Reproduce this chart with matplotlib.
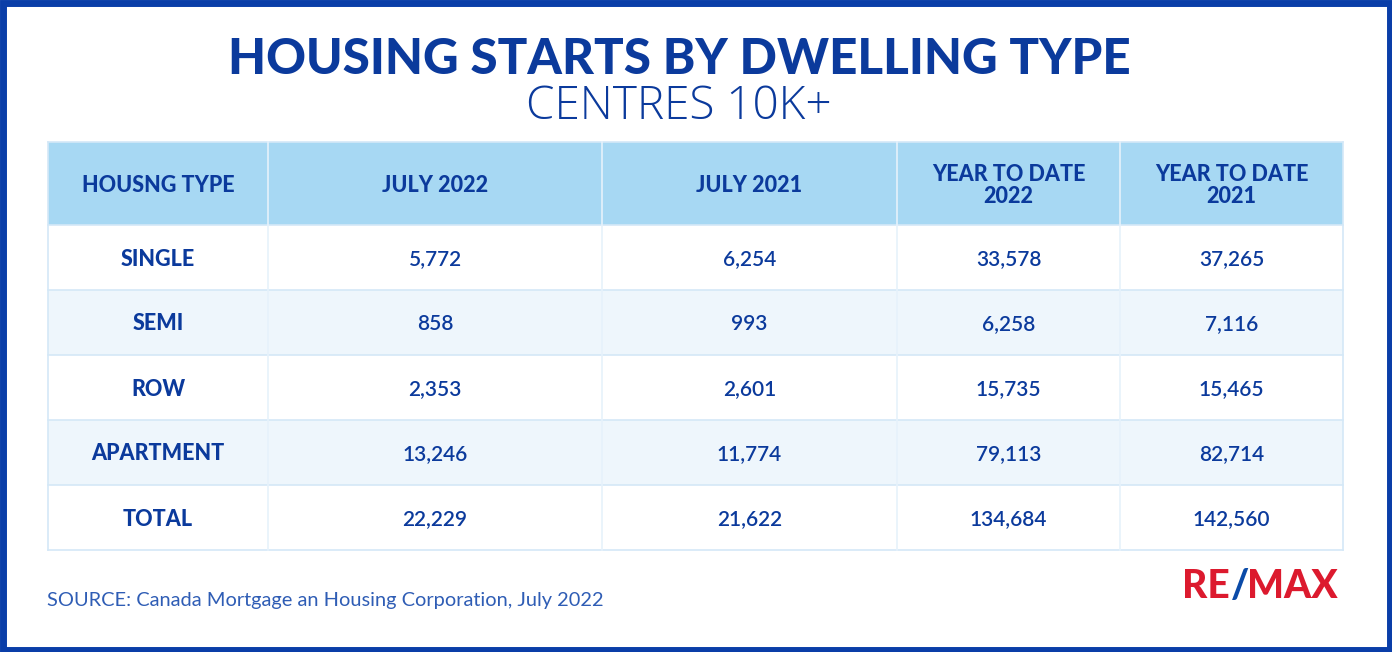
import matplotlib
matplotlib.use("Agg")
import matplotlib.pyplot as plt
from matplotlib.patches import Rectangle

title = "HOUSING STARTS BY DWELLING TYPE"
subtitle = "CENTRES 10K+"
columns = ["HOUSNG TYPE", "JULY 2022", "JULY 2021", "YEAR TO DATE\n2022", "YEAR TO DATE\n2021"]
types = ["SINGLE", "SEMI", "ROW", "APARTMENT", "TOTAL"]
july_2022 = ["5,772", "858", "2,353", "13,246", "22,229"]
july_2021 = ["6,254", "993", "2,601", "11,774", "21,622"]
ytd_2022 = ["33,578", "6,258", "15,735", "79,113", "134,684"]
ytd_2021 = ["37,265", "7,116", "15,465", "82,714", "142,560"]
source = "SOURCE: Canada Mortgage an Housing Corporation, July 2022"

W, H = 1392, 652
fig = plt.figure(figsize=(W/100, H/100), dpi=100)
ax = fig.add_axes([0, 0, 1, 1])
ax.set_xlim(0, W); ax.set_ylim(H, 0); ax.axis("off")

navy = "#0B3A9C"
ax.add_patch(Rectangle((2.5, 2.5), W-5, H-5, fill=False, ec="#0A3EA8", lw=5))

ax.text(679, 74, title, ha="center", va="baseline", fontsize=35.5, fontweight="black",
        family="Lato", color=navy)
ax.text(679, 119, subtitle, ha="center", va="baseline", fontsize=33, fontweight="light",
        family="Open Sans", color=navy)

xs = [48, 268, 602, 897, 1120, 1343]
ys = [142, 225, 290, 355, 420, 485, 550]
grid = "#D4E8F7"
ax.add_patch(Rectangle((xs[0], ys[0]), xs[-1]-xs[0], ys[1]-ys[0], fc="#A7D8F3", ec="none"))
for i in range(len(types)):
    fc = "#FFFFFF" if i % 2 == 0 else "#EEF6FC"
    ax.add_patch(Rectangle((xs[0], ys[i+1]), xs[-1]-xs[0], ys[i+2]-ys[i+1], fc=fc, ec="none"))
for y in ys:
    ax.plot([xs[0], xs[-1]], [y, y], color=grid, lw=1.2)
for x in xs:
    ax.plot([x, x], [ys[0], ys[-1]], color=grid if x in (xs[0], xs[-1]) else "#E6F2FB", lw=1.2)

def cx(j): return (xs[j]+xs[j+1])/2
def cy(i): return (ys[i]+ys[i+1])/2

for j, c in enumerate(columns):
    ax.text(cx(j), cy(0)+2, c, ha="center", va="center", fontsize=15.5, fontweight="black",
            family="Lato", color=navy, linespacing=1.05)
cols = [types, july_2022, july_2021, ytd_2022, ytd_2021]
for j, col in enumerate(cols):
    for i, v in enumerate(col):
        ax.text(cx(j), cy(i+1)+8, v, ha="center", va="baseline", fontsize=15.5 if j == 0 else 15,
                fontweight="black" if j == 0 else "semibold", family="Lato", color=navy)

ax.text(47, 606, source, ha="left", va="baseline", fontsize=14.4, family="Lato", color="#2F5DB5")

red = "#DC1A2E"
ax.text(1182, 598, "RE", ha="left", va="baseline", fontsize=28, fontweight="black", family="Lato", color=red)
ax.text(1231, 598, "/", ha="left", va="baseline", fontsize=28, fontweight="black", family="Lato", color="#0B4BA8")
ax.text(1247, 598, "MAX", ha="left", va="baseline", fontsize=28, fontweight="black", family="Lato", color=red)

fig.savefig("out.png", dpi=100)
